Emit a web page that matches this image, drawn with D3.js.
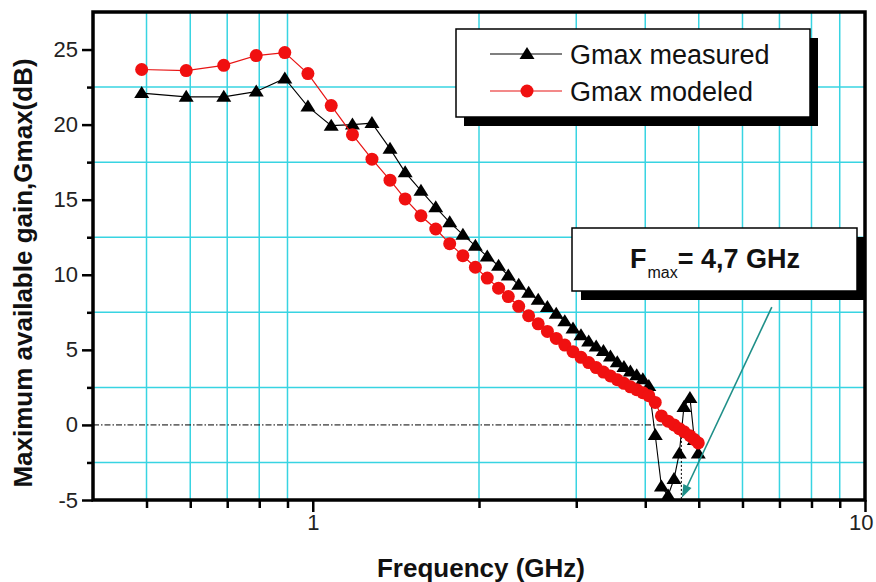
<!DOCTYPE html>
<html>
<head>
<meta charset="utf-8">
<script src="https://cdn.jsdelivr.net/npm/d3@7"></script>
<style>
  html, body { margin: 0; padding: 0; background: #fff; }
  svg { display: block; font-family: "Liberation Sans", Arial, sans-serif; }
</style>
</head>
<body>
<svg id="chart" width="876" height="582"></svg>
<script>
// ---------------- data ----------------
const freqGHz = [0.49,0.59,0.69,0.79,0.89,0.98,1.08,1.18,1.28,1.38,1.47,1.57,1.67,1.77,1.87,1.97,
  2.07,2.17,2.26,2.36,2.46,2.56,2.66,2.76,2.86,2.96,3.06,3.16,3.26,3.36,3.46,3.56,3.66,3.76,3.86,3.96,
  4.06,4.17,4.28,4.40,4.51,4.61,4.70,4.82,4.91,4.99];
const gmaxMeasured = [22.1,21.85,21.85,22.2,23.07,21.2,19.93,20.0,20.1,18.4,16.82,15.6,14.49,13.49,12.67,11.93,
  11.22,10.6,9.95,9.33,8.8,8.33,7.85,7.4,6.9,6.42,5.98,5.55,5.23,4.92,4.55,4.17,3.85,3.55,3.3,3.05,
  2.6,-0.67,-4.1,-4.7,-3.6,-1.9,1.2,1.8,-1.0,-1.9];
const gmaxModeled = [23.67,23.6,23.95,24.6,24.8,23.4,21.27,19.33,17.7,16.3,15.05,13.93,13.05,12.07,11.27,10.5,
  9.78,9.11,8.55,7.9,7.27,6.73,6.23,5.76,5.32,4.88,4.5,4.15,3.82,3.52,3.26,3.01,2.77,2.54,2.35,2.15,
  1.95,1.5,0.6,0.25,0.0,-0.25,-0.45,-0.72,-0.97,-1.2];
const seriesNames = ["Gmax measured", "Gmax modeled"];
const xDomain = [0.4, 10];
const yDomain = [-5, 27.5];
const xMajorTicks = [1, 10];
const xMinorTicks = [0.5,0.6,0.7,0.8,0.9,2,3,4,5,6,7,8,9];
const yMajorTicks = [-5,0,5,10,15,20,25];
const yMinorTicks = [-2.5,2.5,7.5,12.5,17.5,22.5];
const fmaxGHz = 4.65;
const fmaxLabel = "4,7 GHz";
const arrowFrom = [6.78, 7.85];
const arrowTo = [4.66, -4.85];
const xTitle = "Frequency (GHz)";
const yTitle = "Maximum available gain,Gmax(dB)";

// ---------------- layout ----------------
const L = 93, R = 865, T = 12, B = 500;
const svg = d3.select("#chart");
const x = d3.scaleLog().domain(xDomain).range([L, R]);
const y = d3.scaleLinear().domain(yDomain).range([B, T]);
const gridColor = "#38d4e2";

// grid (at minor ticks)
svg.append("g").selectAll("line").data(xMinorTicks).join("line")
  .attr("x1", d => x(d)).attr("x2", d => x(d)).attr("y1", T).attr("y2", B)
  .attr("stroke", gridColor).attr("stroke-width", 1.5);
svg.append("g").selectAll("line").data(yMinorTicks).join("line")
  .attr("x1", L).attr("x2", R).attr("y1", d => y(d)).attr("y2", d => y(d))
  .attr("stroke", gridColor).attr("stroke-width", 1.5);

// zero / Fmax dash-dot line
svg.append("path")
  .attr("d", `M${x(xDomain[0])},${y(0)}H${x(fmaxGHz)}`)
  .attr("fill", "none").attr("stroke", "#000").attr("stroke-width", 1)
  .attr("stroke-dasharray", "6,2,1.5,2");
svg.append("path")
  .attr("d", `M${x(fmaxGHz)},${y(0)}V${y(yDomain[0])}`)
  .attr("fill", "none").attr("stroke", "#000").attr("stroke-width", 1)
  .attr("stroke-dasharray", "2,2");

// series
const tri = "M0,-7L7.5,5L-7.5,5Z";
const measured = freqGHz.map((f, i) => [f, gmaxMeasured[i]]);
const modeled = freqGHz.map((f, i) => [f, gmaxModeled[i]]);
const line = d3.line().x(d => x(d[0])).y(d => y(d[1]));

svg.append("path").datum(measured).attr("d", line)
  .attr("fill", "none").attr("stroke", "#000").attr("stroke-width", 1.1);
svg.append("g").selectAll("path").data(measured).join("path")
  .attr("d", tri).attr("transform", d => `translate(${x(d[0])},${y(d[1])})`)
  .attr("fill", "#000");

svg.append("path").datum(modeled).attr("d", line)
  .attr("fill", "none").attr("stroke", "#e81414").attr("stroke-width", 1.2);
svg.append("g").selectAll("circle").data(modeled).join("circle")
  .attr("cx", d => x(d[0])).attr("cy", d => y(d[1])).attr("r", 6.5)
  .attr("fill", "#f01010");

// frame
svg.append("rect").attr("x", L).attr("y", T).attr("width", R - L).attr("height", B - T)
  .attr("fill", "none").attr("stroke", "#000").attr("stroke-width", 3.5);

// axes
const axStyle = g => {
  g.select(".domain").remove();
  g.selectAll(".tick line").attr("stroke", "#000").attr("stroke-width", 2.5);
  g.selectAll("text").attr("font-size", 22).attr("fill", "#222")
    .attr("font-family", "'Liberation Sans', Arial, sans-serif");
};
const plainFmt = d => String(d);
svg.append("g").attr("transform", `translate(${L},0)`)
  .call(d3.axisLeft(y).tickValues(yMajorTicks).tickSize(11).tickPadding(4).tickFormat(plainFmt))
  .call(axStyle);
svg.append("g").attr("transform", `translate(${L},0)`)
  .call(d3.axisLeft(y).tickValues(yMinorTicks).tickSize(6).tickFormat(""))
  .call(axStyle);
const xAxisG = svg.append("g").attr("transform", `translate(0,${B})`)
  .call(d3.axisBottom(x).tickValues(xMajorTicks).tickSize(12).tickPadding(2).tickFormat(plainFmt))
  .call(axStyle);
// keep the last label inside the window, as in the reference
xAxisG.selectAll(".tick text").filter(d => d === 10).attr("text-anchor", "end").attr("dx", 8);
svg.append("g").attr("transform", `translate(0,${B})`)
  .call(d3.axisBottom(x).tickValues(xMinorTicks).tickSize(8).tickFormat(""))
  .call(axStyle);

// titles
svg.append("text").attr("x", 481).attr("y", 577).attr("text-anchor", "middle")
  .attr("font-size", 26).attr("font-weight", "bold").attr("fill", "#111").text(xTitle);
svg.append("text").attr("transform", "translate(32,273) rotate(-90)").attr("text-anchor", "middle")
  .attr("font-size", 26).attr("font-weight", "bold").attr("fill", "#111").text(yTitle);

// legend
const lg = svg.append("g");
lg.append("rect").attr("x", 464).attr("y", 38).attr("width", 354).attr("height", 88).attr("fill", "#000");
lg.append("rect").attr("x", 456).attr("y", 29).attr("width", 354).attr("height", 88)
  .attr("fill", "#fff").attr("stroke", "#000").attr("stroke-width", 1.5);
const legendRows = [
  {name: seriesNames[0], color: "#000", sym: "tri", cy: 54},
  {name: seriesNames[1], color: "#e81414", sym: "circle", cy: 91}
];
legendRows.forEach(r => {
  lg.append("line").attr("x1", 490).attr("x2", 562).attr("y1", r.cy).attr("y2", r.cy)
    .attr("stroke", r.color).attr("stroke-width", 1.2);
  if (r.sym === "tri") {
    lg.append("path").attr("d", tri).attr("transform", `translate(527,${r.cy})`).attr("fill", "#000");
  } else {
    lg.append("circle").attr("cx", 527).attr("cy", r.cy).attr("r", 6.5).attr("fill", "#f01010");
  }
  lg.append("text").attr("x", 570).attr("y", r.cy + 10).attr("font-size", 27)
    .attr("fill", "#111").text(r.name);
});

// annotation box
const an = svg.append("g");
an.append("rect").attr("x", 581).attr("y", 237).attr("width", 285).attr("height", 63).attr("fill", "#000");
an.append("rect").attr("x", 572).attr("y", 228).attr("width", 285).attr("height", 63)
  .attr("fill", "#fff").attr("stroke", "#000").attr("stroke-width", 1.5);
const t1 = an.append("text").attr("x", 630).attr("y", 268).attr("font-size", 27)
  .attr("font-weight", "bold").attr("fill", "#111").text("F");
const w1 = t1.node().getComputedTextLength();
const t2 = an.append("text").attr("x", 630 + w1 + 1).attr("y", 278).attr("font-size", 16)
  .attr("fill", "#111").text("max");
const w2 = t2.node().getComputedTextLength();
an.append("text").attr("x", 630 + w1 + 1 + w2).attr("y", 268).attr("font-size", 27)
  .attr("font-weight", "bold").attr("fill", "#111").text("= " + fmaxLabel);

// arrow
const ax1 = x(arrowFrom[0]), ay1 = y(arrowFrom[1]), ax2 = x(arrowTo[0]), ay2 = y(arrowTo[1]);
const ang = Math.atan2(ay2 - ay1, ax2 - ax1);
const hl = 13, hw = 4.5;
const bx = ax2 - hl * Math.cos(ang), by = ay2 - hl * Math.sin(ang);
svg.append("line").attr("x1", ax1).attr("y1", ay1).attr("x2", bx).attr("y2", by)
  .attr("stroke", "#1f8f88").attr("stroke-width", 1.6);
svg.append("path")
  .attr("d", `M${ax2},${ay2}L${bx - hw * Math.sin(ang)},${by + hw * Math.cos(ang)}L${bx + hw * Math.sin(ang)},${by - hw * Math.cos(ang)}Z`)
  .attr("fill", "#1f8f88");
</script>
</body>
</html>
